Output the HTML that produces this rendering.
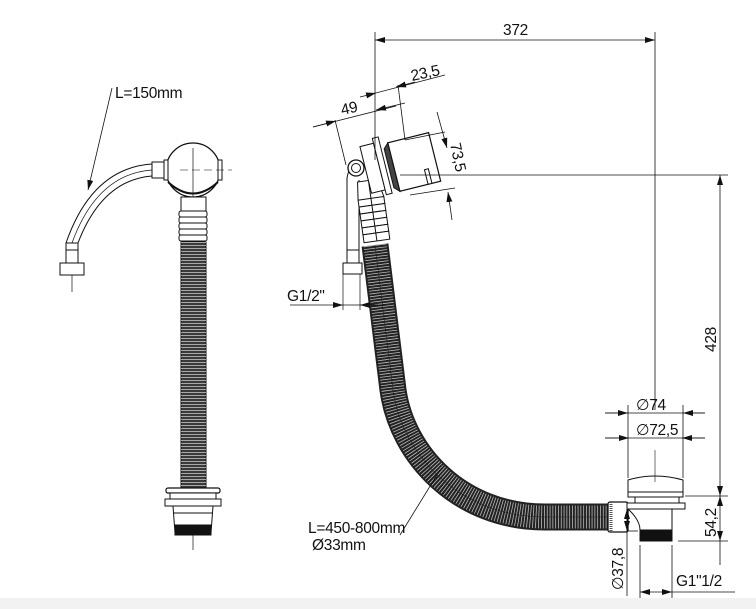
<!DOCTYPE html>
<html><head><meta charset="utf-8"><style>
html,body{margin:0;padding:0;background:#fff;}
svg{display:block;}
text{font-family:"Liberation Sans",sans-serif;fill:#111;letter-spacing:-0.3px;}
</style></head><body>
<svg width="756" height="609" viewBox="0 0 756 609" xmlns="http://www.w3.org/2000/svg">
<defs>
<marker id="a" viewBox="0 0 10 6" refX="10" refY="3" markerWidth="10" markerHeight="6" orient="auto-start-reverse" markerUnits="userSpaceOnUse"><path d="M0,0L10,3L0,6z" fill="#111"/></marker>
</defs>
<rect x="0" y="598" width="756" height="11" fill="#f2f2f2"/>
<g stroke="#111" fill="none" stroke-width="1">
<!-- LEFT VIEW -->
<path d="M152,164 Q92,168 66,243"/>
<path d="M152,176 Q102,180 78,243"/>
<path d="M152,170 Q97,174 72,243" stroke-width="0.7"/>
<rect x="66" y="243" width="12" height="22" fill="#fff"/>
<line x1="66" y1="250" x2="78" y2="250"/>
<rect x="60" y="263" width="24" height="12" fill="#fff"/>
<line x1="72" y1="275" x2="72" y2="292" stroke-width="0.7"/>
<rect x="152" y="162" width="14" height="16" fill="#fff"/>
<circle cx="193" cy="170" r="27" fill="#fff" stroke-width="1.3"/>
<path d="M168,182 Q193,205 218,182" stroke-width="2"/>
<rect x="164" y="160" width="4" height="20" fill="#fff"/>
<rect x="218" y="160" width="4" height="20" fill="#fff"/>
<line x1="193" y1="148" x2="193" y2="550" stroke-width="0.7"/>
<line x1="180" y1="170" x2="232" y2="170" stroke-width="0.6" stroke-dasharray="8 4"/>
<rect x="181" y="197" width="25" height="14" fill="#fff"/>
<g fill="#fff"><rect x="179" y="211" width="28" height="6" rx="2"/><rect x="179" y="217" width="28" height="6" rx="2"/><rect x="179" y="223" width="28" height="6" rx="2"/><rect x="179" y="229" width="28" height="6" rx="2"/><rect x="179" y="235" width="28" height="6" rx="2"/></g>
<rect x="181" y="242" width="25" height="246" fill="#3a3a3a" stroke="#111"/>
<line x1="193.5" y1="242" x2="193.5" y2="488" stroke="#ccc" stroke-width="25" stroke-dasharray="0.8 2.2"/>
<rect x="166" y="488" width="54" height="5" rx="2" fill="#fff" stroke-width="1.2"/>
<rect x="170" y="493" width="46" height="6" fill="#fff"/>
<rect x="165" y="499" width="56" height="7" fill="#fff"/>
<path d="M173,506 L213,506 L211,533 L175,533 Z" fill="#fff"/>
<line x1="174" y1="513" x2="212" y2="513"/>
<rect x="175" y="525" width="36" height="10" fill="#111"/>
<line x1="112" y1="88" x2="88" y2="190" marker-end="url(#a)" stroke-width="0.8"/>

<!-- RIGHT VIEW hose -->
<path d="M375,245 L393,390 C402,455 460,517 545,517 L610,517" stroke="#222" stroke-width="27"/>
<path d="M375,245 L393,390 C402,455 460,517 545,517 L610,517" stroke="#bbb" stroke-width="23" stroke-dasharray="0.8 2"/>
<path d="M375,245 L393,390 C402,455 460,517 545,517 L610,517" stroke="#222" stroke-width="0.6"/>
<!-- small hose right -->
<path d="M347,250 L347,178 Q350,160 362,165"/>
<path d="M359,250 L359,180"/>
<circle cx="356" cy="168" r="8" fill="#fff" stroke-width="1.3"/>
<circle cx="356" cy="168" r="4.5"/>
<rect x="347" y="250" width="12" height="13" fill="#fff"/>
<rect x="343" y="263" width="19" height="11" fill="#fff"/>
<line x1="343" y1="274" x2="343" y2="310" stroke-width="0.7"/>
<line x1="360" y1="274" x2="360" y2="310" stroke-width="0.7"/>
<!-- ribs (collar) -->
<g transform="rotate(-8 375 220)">
<path d="M361,198 L363,180 L383,180 L387,198" fill="#fff"/>
<g fill="#fff"><rect x="361" y="198" width="26" height="7"/><rect x="361" y="205" width="26" height="7"/><rect x="361" y="212" width="26" height="7"/><rect x="361" y="219" width="26" height="7"/><rect x="361" y="226" width="26" height="7"/><rect x="361" y="233" width="26" height="8"/></g>
<line x1="374" y1="180" x2="374" y2="241"/>
</g>
<!-- overflow head tilted -->
<g transform="rotate(-14 390 168)">
<rect x="366" y="140" width="14" height="48" fill="#fff"/>
<rect x="380" y="135" width="6" height="58" fill="#fff"/>
<path d="M389,148 L394,143 L394,193 L389,188 Z" fill="#444"/>
<rect x="394" y="143" width="42" height="50" fill="#fff" stroke-width="1.2"/>
<rect x="423" y="178" width="4" height="15" fill="#fff"/>
</g>
<!-- drain right -->
<rect x="608" y="502" width="20" height="30" rx="2" fill="#fff" stroke-width="1.3"/>
<line x1="611" y1="502" x2="611" y2="532" stroke="#555" stroke-width="3" stroke-dasharray="1 1"/>
<path d="M628,480 Q655,472 683,480 L683,492 L628,492 Z" fill="#fff"/>
<rect x="628" y="492" width="55" height="5" fill="#fff"/>
<rect x="635" y="497" width="44" height="6" fill="#fff"/>
<rect x="627" y="503" width="58" height="6" fill="#fff"/>
<path d="M628,509 Q640,520 640,530 L672,530 L672,509 Z" fill="#fff"/>
<rect x="640" y="530" width="32" height="11" fill="#111"/>
<line x1="655" y1="450" x2="655" y2="482" stroke-width="0.6"/>

<!-- DIMENSIONS -->
<g stroke-width="0.8">
<line x1="375" y1="32" x2="375" y2="160"/>
<line x1="655" y1="32" x2="655" y2="410"/>
<line x1="375" y1="40" x2="655" y2="40" marker-start="url(#a)" marker-end="url(#a)"/>
<line x1="400" y1="175" x2="728" y2="175"/>
<line x1="720" y1="175" x2="720" y2="496" marker-start="url(#a)" marker-end="url(#a)"/>
<line x1="685" y1="496" x2="728" y2="496"/>
<line x1="678" y1="541" x2="728" y2="541"/>
<line x1="720" y1="496" x2="720" y2="541" marker-start="url(#a)" marker-end="url(#a)"/>
<line x1="720" y1="541" x2="720" y2="565"/>
<line x1="605" y1="413" x2="705" y2="413"/>
<line x1="605" y1="413" x2="628" y2="413" marker-end="url(#a)"/>
<line x1="705" y1="413" x2="683" y2="413" marker-end="url(#a)"/>
<line x1="605" y1="438" x2="705" y2="438"/>
<line x1="605" y1="438" x2="629" y2="438" marker-end="url(#a)"/>
<line x1="705" y1="438" x2="682" y2="438" marker-end="url(#a)"/>
<line x1="628" y1="405" x2="628" y2="478"/>
<line x1="683" y1="405" x2="683" y2="478"/>
<line x1="627" y1="509" x2="627" y2="596"/>
<line x1="627" y1="509" x2="627" y2="531" marker-start="url(#a)" marker-end="url(#a)"/>
<line x1="627" y1="531" x2="638" y2="531"/>
<line x1="640" y1="545" x2="640" y2="598"/>
<line x1="672" y1="545" x2="672" y2="598"/>
<line x1="640" y1="592" x2="672" y2="592" marker-start="url(#a)" marker-end="url(#a)"/>
<line x1="672" y1="592" x2="735" y2="592"/>
<line x1="290" y1="305" x2="343" y2="305" marker-end="url(#a)"/>
<line x1="343" y1="305" x2="385" y2="305"/>
<line x1="378" y1="305" x2="360" y2="305" marker-end="url(#a)"/>
<line x1="313" y1="127" x2="396" y2="106"/>
<line x1="313" y1="127" x2="336" y2="121" marker-end="url(#a)"/>
<line x1="405" y1="103" x2="376" y2="110" marker-end="url(#a)"/>
<line x1="368" y1="95" x2="445" y2="75"/>
<line x1="360" y1="97" x2="376" y2="93" marker-end="url(#a)"/>
<line x1="415" y1="82" x2="396" y2="87" marker-end="url(#a)"/>
<line x1="335" y1="120" x2="346" y2="165"/>
<line x1="398" y1="85" x2="405" y2="140"/>
<line x1="437" y1="112" x2="447" y2="148" marker-end="url(#a)"/>
<line x1="452" y1="220" x2="448" y2="192" marker-end="url(#a)"/>
<line x1="405" y1="140" x2="445" y2="132"/>
<line x1="410" y1="195" x2="455" y2="188"/>
<line x1="400" y1="535" x2="440" y2="470"/>
</g>
</g>
<g font-size="15.5">
<text x="115" y="98">L=150mm</text>
<text x="503" y="35">372</text>
<text x="412" y="81" transform="rotate(-12 412 81)">23,5</text>
<text x="342" y="115" transform="rotate(-12 342 115)">49</text>
<text x="450" y="144" transform="rotate(78 450 144)">73,5</text>
<text x="287" y="301">G1/2"</text>
<text x="716" y="352" transform="rotate(-90 716 352)">428</text>
<text x="716" y="537" transform="rotate(-90 716 537)">54,2</text>
<text x="636" y="410">∅74</text>
<text x="636" y="435">∅72,5</text>
<text x="623" y="590" transform="rotate(-90 623 590)">∅37,8</text>
<text x="676" y="586">G1"1/2</text>
<text x="308" y="533">L=450-800mm</text>
<text x="312" y="550">Ø33mm</text>
</g>
</svg>
</body></html>
